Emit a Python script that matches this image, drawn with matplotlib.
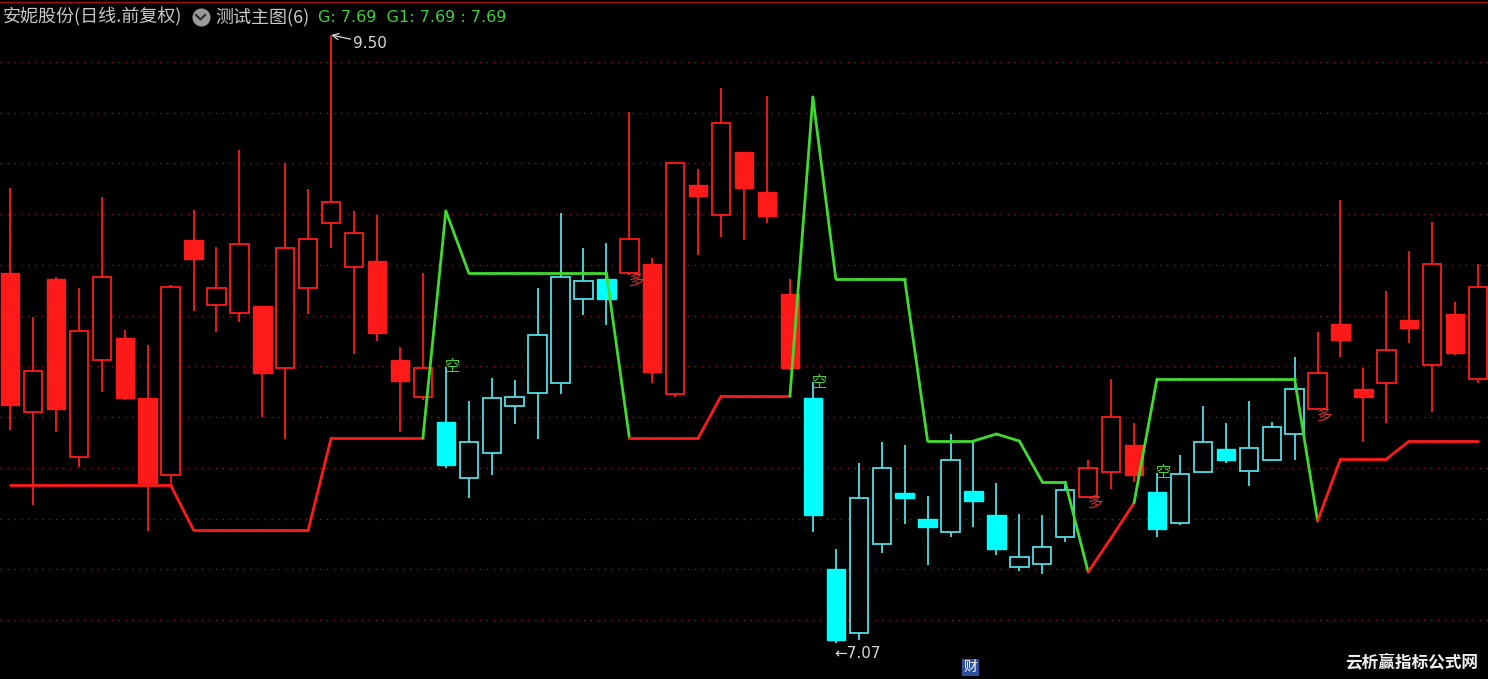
import numpy as np
import matplotlib
matplotlib.use('Agg')
import matplotlib.pyplot as plt
from matplotlib.patches import Rectangle

plt.rcParams['font.family'] = ['Noto Sans CJK SC', 'DejaVu Sans']

# daily OHLC, 65 bars
opens = [8.548, 7.992, 8.524, 7.812, 8.200, 8.288, 8.048, 7.740, 8.680, 8.420,
         8.388, 8.416, 8.168, 8.488, 8.748, 8.572, 8.596, 8.200, 8.052, 7.952,
         7.728, 7.828, 8.016, 8.068, 8.108, 8.444, 8.524, 8.548, 8.584, 8.064,
         8.900, 8.780, 9.032, 8.872, 8.464, 8.048, 7.364, 7.108, 7.464, 7.668,
         7.564, 7.512, 7.676, 7.580, 7.372, 7.384, 7.492, 7.652, 7.752, 7.860,
         7.672, 7.548, 7.752, 7.844, 7.756, 7.800, 7.904, 8.004, 8.344, 8.084,
         8.108, 8.360, 8.180, 8.384, 8.124]
highs = [8.888, 8.372, 8.532, 8.488, 8.852, 8.320, 8.260, 8.500, 8.800, 8.652,
         9.040, 8.416, 8.988, 8.884, 9.500, 8.796, 8.780, 8.252, 8.548, 8.172,
         8.036, 8.128, 8.120, 8.488, 8.788, 8.648, 8.668, 9.192, 8.608, 8.988,
         8.964, 9.288, 9.032, 9.256, 8.524, 8.112, 7.444, 7.788, 7.872, 7.860,
         7.656, 7.904, 7.872, 7.708, 7.584, 7.580, 7.712, 7.800, 8.124, 7.948,
         7.748, 7.820, 8.016, 7.948, 8.036, 7.952, 8.212, 8.312, 8.840, 8.168,
         8.476, 8.636, 8.752, 8.432, 8.584]
lows = [7.920, 7.620, 7.912, 7.772, 8.072, 8.040, 7.516, 7.708, 8.396, 8.312,
        8.352, 7.972, 7.884, 8.384, 8.648, 8.224, 8.276, 7.912, 8.040, 7.768,
        7.648, 7.740, 7.944, 7.884, 8.064, 8.380, 8.340, 8.540, 8.108, 8.052,
        8.620, 8.692, 8.680, 8.748, 8.160, 7.512, 7.070, 7.080, 7.428, 7.544,
        7.380, 7.492, 7.532, 7.420, 7.356, 7.344, 7.472, 7.650, 7.684, 7.712,
        7.492, 7.540, 7.750, 7.788, 7.696, 7.796, 7.800, 8.000, 8.212, 7.872,
        7.948, 8.268, 7.992, 8.220, 8.108]
closes = [8.020, 8.156, 8.004, 8.316, 8.532, 8.048, 7.708, 8.492, 8.604, 8.488,
          8.664, 8.148, 8.648, 8.684, 8.832, 8.708, 8.308, 8.116, 8.168, 7.780,
          7.872, 8.048, 8.052, 8.300, 8.532, 8.516, 8.444, 8.684, 8.152, 8.988,
          8.856, 9.148, 8.888, 8.776, 8.168, 7.580, 7.080, 7.648, 7.768, 7.648,
          7.532, 7.800, 7.636, 7.444, 7.412, 7.452, 7.680, 7.768, 7.972, 7.740,
          7.524, 7.744, 7.872, 7.800, 7.848, 7.932, 8.084, 8.148, 8.280, 8.052,
          8.240, 8.328, 8.584, 8.228, 8.492]

# 1 = 多 (red), 0 = 空 (cyan)
state = [1, 1, 1, 1, 1, 1, 1, 1, 1, 1, 1, 1, 1, 1, 1, 1, 1, 1, 1, 0,
         0, 0, 0, 0, 0, 0, 0, 1, 1, 1, 1, 1, 1, 1, 1, 0, 0, 0, 0, 0,
         0, 0, 0, 0, 0, 0, 0, 1, 1, 1, 0, 0, 0, 0, 0, 0, 0, 1, 1, 1,
         1, 1, 1, 1, 1]

# indicator line G
g_line = [7.700, 7.700, 7.700, 7.700, 7.700, 7.700, 7.700, 7.700, 7.520, 7.520,
          7.520, 7.520, 7.520, 7.520, 7.888, 7.888, 7.888, 7.888, 7.888, 8.796,
          8.548, 8.548, 8.548, 8.548, 8.548, 8.548, 8.548, 7.888, 7.888, 7.888,
          7.888, 8.056, 8.056, 8.056, 8.056, 9.252, 8.524, 8.524, 8.524, 8.524,
          7.876, 7.876, 7.876, 7.904, 7.876, 7.712, 7.712, 7.352, 7.488, 7.628,
          8.124, 8.124, 8.124, 8.124, 8.124, 8.124, 8.124, 7.556, 7.804, 7.804,
          7.804, 7.876, 7.876, 7.876, 7.876]

signals = [(19, '空'), (27, '多'), (35, '空'), (47, '多'), (50, '空'), (57, '多')]

RED = '#ff1a1a'
CYAN_FILL = '#00ffff'
CYAN_EDGE = '#50dde6'
GREEN = '#3fdc2f'

fig = plt.figure(figsize=(14.88, 6.79), dpi=100, facecolor='black')
ax = fig.add_axes([0, 0, 1, 1])
ax.set_facecolor('black')
ax.set_xlim(-0.436, 64.43)
ax.set_ylim(6.924, 9.64)
ax.axis('off')

# dotted grid
for lvl in np.linspace(7.16, 9.392, 12):
    ax.axhline(lvl, color='#8c1818', lw=1.0, ls=(0, (1, 4)), zorder=0)
ax.axhline(9.632, color='#a01010', lw=1.0, zorder=0)

w = 0.80
for i in range(len(opens)):
    o, h, l, c = opens[i], highs[i], lows[i], closes[i]
    if state[i] == 1:
        edge = RED
        fill = RED
    else:
        edge = CYAN_EDGE
        fill = CYAN_FILL
    top = max(o, c)
    bot = min(o, c)
    ax.vlines(i, top, h, color=edge, lw=1.3, zorder=2)
    ax.vlines(i, l, bot, color=edge, lw=1.3, zorder=2)
    if c < o:
        ax.add_patch(Rectangle((i - w / 2, bot), w, top - bot, facecolor=fill,
                               edgecolor=fill, lw=1.0, zorder=3))
    else:
        ax.add_patch(Rectangle((i - w / 2, bot), w, max(top - bot, 0.004),
                               facecolor='black', edgecolor=edge, lw=1.3, zorder=3))

# indicator line, green where either end is 空
for i in range(len(g_line) - 1):
    col = GREEN if (state[i] == 0 or state[i + 1] == 0) else RED
    ax.plot([i, i + 1], [g_line[i], g_line[i + 1]], color=col, lw=2.0,
            solid_capstyle='round', zorder=4)

for idx, txt in signals:
    if txt == '空':
        ax.text(idx + 0.3, highs[idx], txt, color='#4ccf3c', fontsize=11,
                ha='center', va='center', zorder=5)
    else:
        ax.text(idx + 0.3, lows[idx] - 0.02, txt, color='#e03030', fontsize=11,
                ha='center', va='center', zorder=5)

# max / min marks
hi_i = int(np.argmax(highs))
lo_i = int(np.argmin(lows))
ax.annotate('%.2f' % highs[hi_i], xy=(hi_i, highs[hi_i]), xytext=(16, -6),
            textcoords='offset points', color='#d8d8d8', fontsize=11,
            family='DejaVu Sans', va='center',
            arrowprops=dict(arrowstyle='->', color='#d8d8d8', lw=0.9,
                            shrinkA=0, shrinkB=0))
ax.text(lo_i - 0.05, lows[lo_i] - 0.045, '←%.2f' % lows[lo_i], color='#d8d8d8',
        fontsize=11, family='DejaVu Sans', ha='left', va='center', zorder=5)

# 财 marker at bottom
ax.text(42 - 0.13, 0.017, '财', transform=ax.get_xaxis_transform(), color='white',
        fontsize=10, ha='center', va='center',
        bbox=dict(boxstyle='square,pad=0.1', facecolor='#2d4f9e', edgecolor='none'))

# header
H = 679.0
fig.text(3 / 1488, 1 - 17 / H, '安妮股份(日线.前复权)', color='#c8c8c8', fontsize=13,
         va='center', ha='left')
ax.plot([200.5 / 1488], [1 - 17 / H], 'o', ms=12, color='#9a9a9a',
        transform=fig.transFigure, clip_on=False)
ax.plot([196 / 1488, 200.5 / 1488, 205 / 1488], [1 - 15 / H, 1 - 19.5 / H, 1 - 15 / H],
        color='#303030', lw=1.6, transform=fig.transFigure, clip_on=False)
fig.text(215 / 1488, 1 - 17 / H, '测试主图(6)', color='#c8c8c8', fontsize=13,
         va='center', ha='left')
fig.text(318 / 1488, 1 - 17 / H, 'G: 7.69  G1: 7.69 : 7.69', color='#3fd23a',
         fontsize=11.5, va='center', ha='left', family='DejaVu Sans')

# watermark
fig.text(1478 / 1488, 1 - 662 / H, '云析赢指标公式网', color='#f0f0f0', fontsize=12,
         fontweight='bold', va='center', ha='right')

fig.savefig('out.png', dpi=100, facecolor='black')
